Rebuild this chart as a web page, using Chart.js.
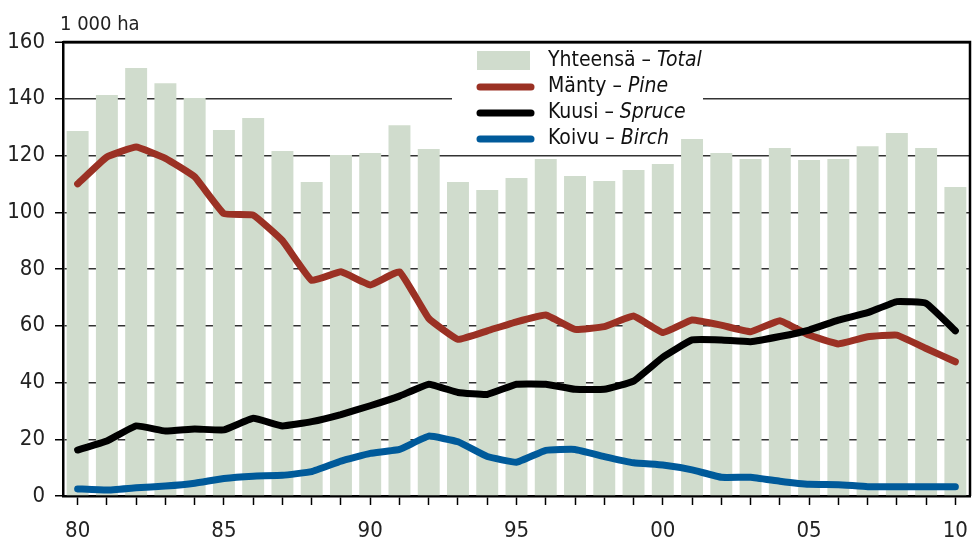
<!DOCTYPE html>
<html>
<head>
<meta charset="utf-8">
<script src="https://cdn.jsdelivr.net/npm/chart.js@4.4.1/dist/chart.umd.min.js"></script>
<style>
  html, body { margin: 0; padding: 0; background: #fff; }
  #wrap { width: 972px; height: 543px; }
</style>
</head>
<body>
<div id="wrap"><canvas id="chart" width="972" height="543"></canvas></div>
<script>
// years 1980-2010, shown as two digits
const years = ['80','81','82','83','84','85','86','87','88','89','90','91','92','93','94','95','96','97','98','99','00','01','02','03','04','05','06','07','08','09','10'];

// 1 000 ha
const total = [128.6,141.3,150.8,145.5,140.3,129,133.2,121.6,110.7,120.2,120.9,130.7,122.3,110.7,107.8,112.1,118.8,112.8,111,114.9,117,125.8,120.9,118.8,122.6,118.4,118.8,123.3,127.9,122.6,108.9];
const pine = [110,119.5,123,119,112.5,99.5,99,90,76,79,74.4,79,62.6,55.2,58.2,61.4,63.8,58.7,59.7,63.4,57.6,62,60.2,57.9,61.8,56.7,53.6,56.1,56.7,52,47.3];
const spruce = [16.2,19.4,24.7,22.9,23.6,23.3,27.4,24.7,26.2,28.7,31.8,35.2,39.4,36.5,35.8,39.4,39.4,37.6,37.6,40.5,48.9,55,55,54.4,56.2,58.5,62,64.6,68.5,67.9,58.2];
const birch = [2.5,2.1,2.9,3.5,4.5,6.2,7,7.3,8.6,12.3,15,16.4,21.1,19.1,13.9,11.9,16.1,16.4,13.9,11.7,10.9,9.2,6.6,6.6,5.2,4.1,4,3.3,3.3,3.3,3.3];

const legendLabels = [
  ['Yhteensä – ', 'Total'],
  ['Mänty – ', 'Pine'],
  ['Kuusi – ', 'Spruce'],
  ['Koivu – ', 'Birch']
];

const FONT = "'Liberation Sans Narrow', 'Arial Narrow', 'DejaVu Sans Condensed', sans-serif";
const BAR = '#d0dccd';
const PINE = '#9b3124';
const SPRUCE = '#000000';
const BIRCH = '#005a9a';

// white legend box, frame lines and unit label
const decor = {
  id: 'decor',
  beforeDatasetsDraw(chart) {
    const ctx = chart.ctx;
    ctx.save();
    ctx.fillStyle = '#fff';
    ctx.fillRect(452, chart.chartArea.top + 2, 251, 108);
    ctx.restore();
  },
  afterDraw(chart) {
    const ctx = chart.ctx;
    const a = chart.chartArea;
    ctx.save();
    ctx.strokeStyle = '#000';
    ctx.lineWidth = 2.5;
    ctx.beginPath();
    ctx.moveTo(a.left, a.top);
    ctx.lineTo(a.right, a.top);
    ctx.lineTo(a.right, a.bottom);
    ctx.stroke();

    ctx.fillStyle = '#222';
    ctx.font = '20px ' + FONT;
    ctx.textBaseline = 'alphabetic';
    ctx.fillText('1 000 ha', 60, 30);

    // legend
    const colors = [BAR, PINE, SPRUCE, BIRCH];
    const rowY = [61, 87, 113, 139];
    for (let i = 0; i < 4; i++) {
      const y = rowY[i];
      if (i === 0) {
        ctx.fillStyle = BAR;
        ctx.fillRect(477, y - 10, 53, 19);
      } else {
        ctx.strokeStyle = colors[i];
        ctx.lineWidth = 7;
        ctx.lineCap = 'round';
        ctx.beginPath();
        ctx.moveTo(480, y);
        ctx.lineTo(531, y);
        ctx.stroke();
      }
      ctx.fillStyle = '#111';
      ctx.textBaseline = 'middle';
      ctx.font = '21px ' + FONT;
      ctx.fillText(legendLabels[i][0], 548, y);
      const w = ctx.measureText(legendLabels[i][0]).width;
      ctx.font = 'italic 21px ' + FONT;
      ctx.fillText(legendLabels[i][1], 548 + w, y);
    }
    ctx.restore();
  }
};

const lineStyle = (color) => ({
  type: 'line',
  borderColor: color,
  backgroundColor: color,
  borderWidth: 7,
  pointRadius: 0,
  tension: 0.1,
  borderJoinStyle: 'round',
  borderCapStyle: 'round',
  fill: false
});

new Chart(document.getElementById('chart'), {
  type: 'bar',
  data: {
    labels: years,
    datasets: [
      { label: 'Yhteensä – Total', data: total, backgroundColor: BAR, barPercentage: 0.75, categoryPercentage: 1, order: 10 },
      Object.assign({ label: 'Mänty – Pine', data: pine, order: 3 }, lineStyle(PINE)),
      Object.assign({ label: 'Kuusi – Spruce', data: spruce, order: 2 }, lineStyle(SPRUCE)),
      Object.assign({ label: 'Koivu – Birch', data: birch, order: 1 }, lineStyle(BIRCH))
    ]
  },
  options: {
    responsive: false,
    animation: false,
    layout: { padding: { top: 42, right: 2, left: 0, bottom: 0 } },
    plugins: {
      legend: { display: false },
      tooltip: { enabled: false }
    },
    scales: {
      x: {
        offset: true,
        grid: { display: true, drawOnChartArea: false, offset: false, drawTicks: true, tickLength: 9, tickColor: '#000', tickWidth: 1.5 },
        border: { display: true, color: '#000', width: 2.5 },
        ticks: {
          autoSkip: false,
          maxRotation: 0,
          color: '#222',
          font: { family: FONT, size: 22 },
          padding: 13,
          callback: function (v, i) { return i % 5 === 0 ? years[i] : ''; }
        },
        afterFit: (s) => { s.height = 47; s.paddingLeft = 0; s.paddingRight = 0; }
      },
      y: {
        min: 0,
        max: 160,
        ticks: { stepSize: 20, color: '#222', font: { family: FONT, size: 22 }, padding: 10 },
        grid: {
          color: (c) => (c.tick && c.tick.value === 160 ? '#000' : '#333'),
          lineWidth: (c) => (c.tick && c.tick.value === 160 ? 2.5 : 1.5),
          tickLength: 8,
          tickColor: '#000',
          tickWidth: 1.5
        },
        border: { display: true, color: '#000', width: 2.5 },
        afterFit: (s) => { s.width = 63; }
      }
    }
  },
  plugins: [decor]
});
</script>
</body>
</html>
